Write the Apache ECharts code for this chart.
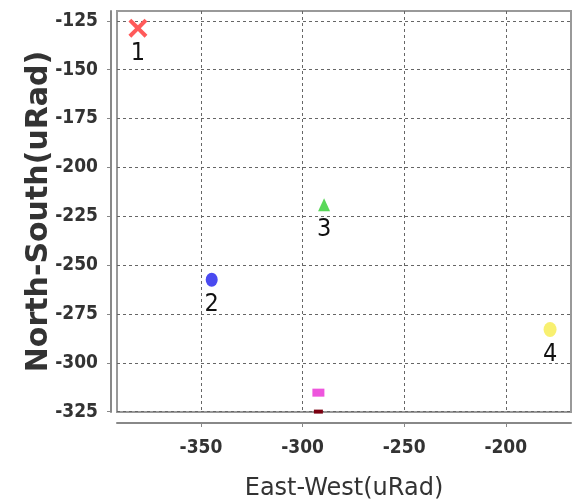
<!DOCTYPE html>
<html>
<head>
<meta charset="utf-8">
<script src="https://cdn.jsdelivr.net/npm/echarts@6/dist/echarts.min.js"></script>
<style>
html,body{margin:0;padding:0;background:#fff;}
#chart{width:581px;height:501px;}
</style>
</head>
<body>
<div id="chart"></div>
<script>
// ---- data ----
var pointLabels = ['1', '2', '3', '4', '', ''];
var eastWest   = [-381, -344.7, -289.4, -178.2, -292.2, -292.2];
var northSouth = [-128.8, -257.5, -219.1, -283, -315.3, -325];
var xTicks = [-350, -300, -250, -200];
var yTicks = [-325, -300, -275, -250, -225, -200, -175, -150, -125];
var xTitle = 'East-West(uRad)';
var yTitle = 'North-South(uRad)';

// ---- styles ----
var crossPath = 'path://M3,0 L10,7 L17,0 L20,3 L13,10 L20,17 L17,20 L10,13 L3,20 L0,17 L7,10 L0,3 Z';
var markerStyles = [
  {symbol: crossPath, size: 19, color: '#ff5a5a'},
  {symbol: 'circle', size: [12, 14], color: '#4a4af0'},
  {symbol: 'triangle', size: [12, 13], color: '#5ad85a'},
  {symbol: 'circle', size: [13, 15], color: '#f8f070'},
  {symbol: 'rect', size: [12, 8], color: '#ee55dd'},
  {symbol: 'rect', size: [9, 4], color: '#7a0010'}
];

var series = eastWest.map(function (x, i) {
  var st = markerStyles[i];
  return {
    type: 'scatter',
    data: [[x, northSouth[i]]],
    symbol: st.symbol,
    symbolSize: st.size,
    itemStyle: {color: st.color, opacity: 1},
    clip: false,
    label: {
      show: pointLabels[i] !== '',
      formatter: pointLabels[i],
      position: 'inside',
      offset: [0, 25],
      color: '#111',
      fontFamily: "'DejaVu Sans Condensed', sans-serif",
      fontSize: 25
    },
    emphasis: {disabled: true},
    animation: false
  };
});

var tickFont = "'DejaVu Sans Condensed', sans-serif";
var gridLine = {show: true, lineStyle: {color: '#666', width: 1, type: [3, 3]}};

var chart = echarts.init(document.getElementById('chart'), null, {renderer: 'canvas'});
chart.setOption({
  backgroundColor: '#fff',
  animation: false,
  grid: {left: 117, right: 10, top: 11, bottom: 89, show: true, borderColor: '#999', borderWidth: 2,
         backgroundColor: 'transparent', containLabel: false, outerBoundsMode: 'none'},
  xAxis: {
    type: 'value',
    min: -391.3, max: -167.9,
    offset: 11,
    name: xTitle,
    nameLocation: 'middle',
    nameGap: 54,
    nameTextStyle: {fontFamily: "'DejaVu Sans', sans-serif", fontSize: 24, color: '#333'},
    axisLine: {show: true, lineStyle: {color: '#888', width: 2}},
    axisTick: {show: true, length: 4, customValues: xTicks, lineStyle: {color: '#888'}},
    axisLabel: {customValues: xTicks, margin: 16, fontFamily: tickFont, fontWeight: 'bold', fontSize: 19, color: '#333'},
    splitLine: gridLine
  },
  yAxis: {
    type: 'value',
    min: -325.2, max: -120,
    offset: 6,
    name: yTitle,
    nameLocation: 'middle',
    nameMoveOverlap: false,
    nameGap: 57,
    nameTextStyle: {fontFamily: "'DejaVu Sans', sans-serif", fontSize: 30, fontWeight: 'bold', color: '#333'},
    axisLine: {show: true, lineStyle: {color: '#888', width: 2}},
    axisTick: {show: true, length: 4, customValues: yTicks, lineStyle: {color: '#888'}},
    axisLabel: {customValues: yTicks, margin: 13, fontFamily: tickFont, fontWeight: 'bold', fontSize: 19, color: '#333'},
    splitLine: gridLine
  },
  series: series
});
</script>
</body>
</html>
